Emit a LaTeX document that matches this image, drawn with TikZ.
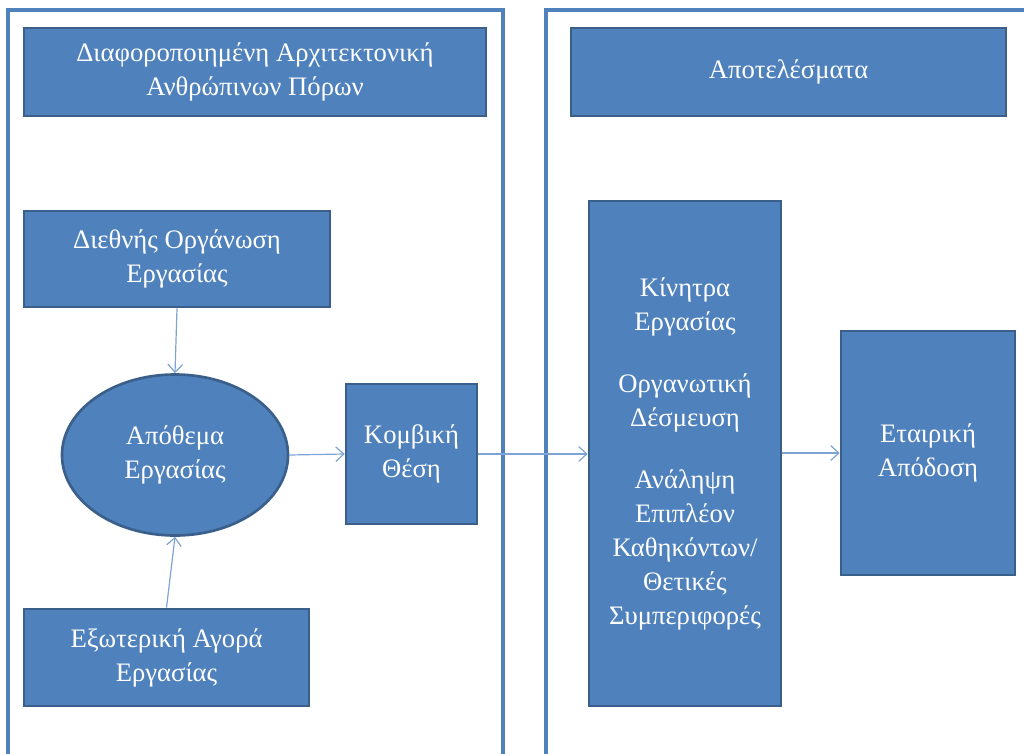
\documentclass[tikz,border=0pt]{standalone}
\usepackage{fontspec}
\setmainfont{Liberation Serif}
\usetikzlibrary{arrows.meta, shapes.geometric}

\definecolor{panelblue}{HTML}{4F81BD}
\definecolor{boxedge}{HTML}{3A5F8B}
\definecolor{linkblue}{HTML}{7EA4D4}

\tikzset{
    blockbox/.style={draw=boxedge, line width=2pt, fill=panelblue, text=white,
        align=center, inner sep=0pt, font=\fontsize{20}{25.5}\selectfont},
    frameline/.style={draw=panelblue, line width=2.5pt},
    link/.style={draw=linkblue, line width=0.9pt, -{Straight Barb[length=6pt, width=11pt]}},
}

\begin{document}
\begin{tikzpicture}[x=0.75pt, y=-0.75pt]
    \useasboundingbox (0,0) rectangle (1024,753);
    % two panels, open at the bottom
    \draw [frameline] (8,770) -- (8,10) -- (503,10) -- (503,770);
    \draw [frameline] (546,770) -- (546,10) -- (1040,10);

    % titles
    \node [blockbox, minimum width=462*0.75pt, minimum height=88*0.75pt] (archtitle) at (255,72)
        {Διαφοροποιημένη Αρχιτεκτονική\\Ανθρώπινων Πόρων};
    \node [blockbox, minimum width=435*0.75pt, minimum height=88*0.75pt] (restitle) at (788.5,72)
        {Αποτελέσματα};

    % left side
    \node [blockbox, minimum width=306*0.75pt, minimum height=96*0.75pt] (intlorg) at (177,259)
        {Διεθνής Οργάνωση\\Εργασίας};
    \node [blockbox, ellipse, minimum width=226*0.75pt, minimum height=161*0.75pt] (stock) at (175,455)
        {Απόθεμα\\Εργασίας};
    \node [blockbox, minimum width=285*0.75pt, minimum height=97*0.75pt] (extmarket) at (166.5,657.5)
        {Εξωτερική Αγορά\\Εργασίας};
    \node [blockbox, minimum width=131*0.75pt, minimum height=140*0.75pt] (keypos) at (411.5,454)
        {Κομβική\\Θέση};

    % right side
    \node [blockbox, minimum width=192*0.75pt, minimum height=505*0.75pt] (motives) at (685,453.5)
        {Κίνητρα\\Εργασίας\\[21pt]Οργανωτική\\Δέσμευση\\[21pt]Ανάληψη\\Επιπλέον\\Καθηκόντων/\\Θετικές\\Συμπεριφορές};
    \node [blockbox, minimum width=174*0.75pt, minimum height=244*0.75pt] (perform) at (928,453)
        {Εταιρική\\Απόδοση};

    % connectors
    \draw [link] (intlorg.south) -- (stock.north);
    \draw [link] (extmarket.north) -- (stock.south);
    \draw [link] (stock.east) -- (keypos.west);
    \draw [link] (keypos.east) -- (keypos.east -| motives.west);
    \draw [link] (motives.east |- perform.west) -- (perform.west);
\end{tikzpicture}
\end{document}
